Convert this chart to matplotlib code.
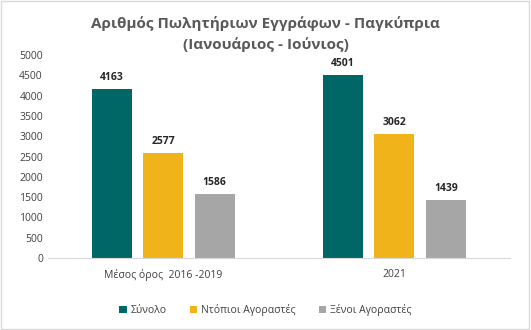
import matplotlib.pyplot as plt
import numpy as np
from matplotlib.patches import Rectangle

categories = ["Μέσος όρος  2016 -2019", "2021"]
series_names = ["Σύνολο", "Ντόπιοι Αγοραστές", "Ξένοι Αγοραστές"]
total = [4163, 4501]
local = [2577, 3062]
foreign = [1586, 1439]
colors = ["#006766", "#F0B31A", "#A6A6A6"]

plt.rcParams['font.family'] = ['Open Sans', 'DejaVu Sans']

fig = plt.figure(figsize=(5.31, 3.30), dpi=100)
ax = fig.add_axes([0.090, 0.218, 0.870, 0.615])

x = np.arange(len(categories))
width = 0.175
step = 0.223
for i, (vals, name, c) in enumerate(zip([total, local, foreign], series_names, colors)):
    pos = x + (i - 1) * step
    bars = ax.bar(pos, vals, width, color=c, label=name)
    for b, v in zip(bars, vals):
        ax.text(b.get_x() + b.get_width() / 2, v + 150, str(v), ha='center', va='bottom',
                fontsize=7.5, fontweight='bold', color='#262626')

ax.set_xlim(-0.5, 1.5)
ax.set_ylim(0, 5000)
ax.set_yticks(range(0, 5001, 500))
ax.set_xticks(x)
ax.set_xticklabels(categories)
ax.tick_params(axis='both', length=0, labelsize=7.5, colors='#404040')
ax.tick_params(axis='x', pad=8)
for s in ['top', 'right', 'left']:
    ax.spines[s].set_visible(False)
ax.spines['bottom'].set_color('#D9D9D9')

fig.text(0.5, 0.897, "Αριθμός Πωλητήριων Εγγράφων - Παγκύπρια\n(Ιανουάριος - Ιούνιος)",
         ha='center', va='center', fontsize=11, fontweight='bold', color='#595959',
         linespacing=1.5)

fig.legend(loc='center', bbox_to_anchor=(0.5, 0.06), ncol=3, frameon=False,
           fontsize=7.5, handlelength=0.7, handleheight=0.7, columnspacing=2.2,
           handletextpad=0.4, labelcolor='#404040')

fig.patches.append(Rectangle((0.002, 0.003), 0.994, 0.994, transform=fig.transFigure,
                             fill=False, edgecolor='#D9D9D9', linewidth=1))

fig.savefig("out.png", dpi=100)
